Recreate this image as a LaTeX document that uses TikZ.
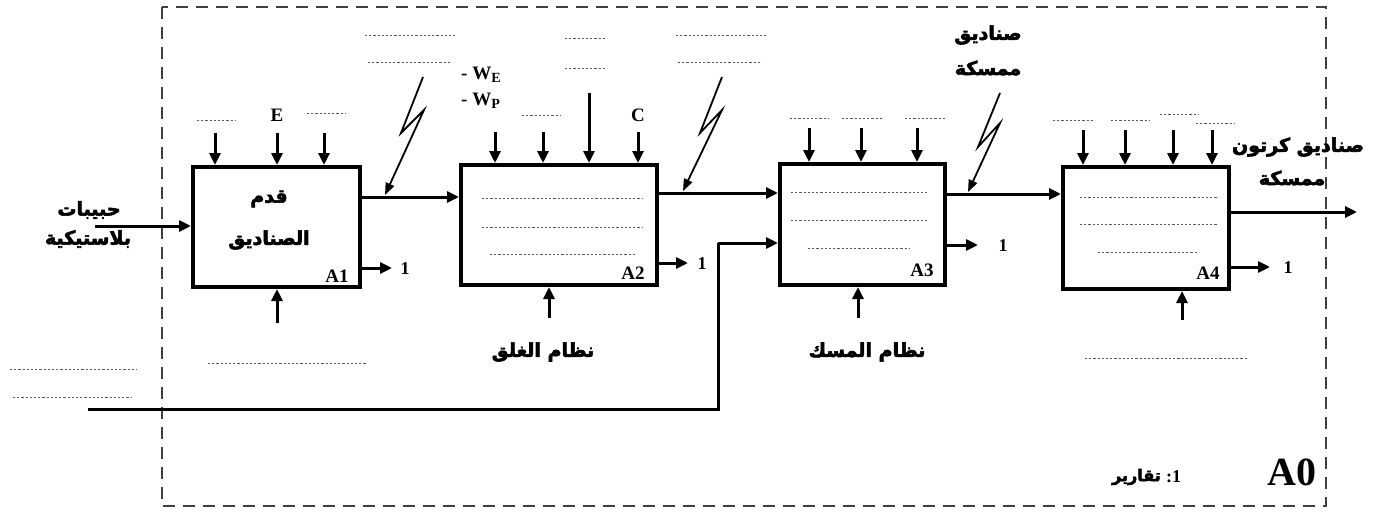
\documentclass[tikz,border=0pt]{standalone}
\usepackage{fontspec}
\setmainfont{Liberation Serif}
\newfontfamily\arabicfont[Script=Arabic,BoldFont={DejaVu Sans Bold},BoldFeatures={FakeBold=3}]{DejaVu Sans}
\TeXXeTstate=1
\usetikzlibrary{arrows.meta}
\tikzset{
  procbox/.style={draw, line width=4pt, inner sep=0pt},
  arr/.style={line width=3pt, -{Triangle[length=12pt,width=11pt]}},
  flow/.style={line width=3pt},
  bolt/.style={line width=1.8pt, -{Triangle[length=12pt,width=9pt]}},
  dots/.style={black!65, line width=0.9pt, dash pattern=on 2.2pt off 2pt},
  frame/.style={black!75, line width=1.4pt, dash pattern=on 12pt off 8pt},
  lat/.style={font=\bfseries\fontsize{19}{19}\selectfont, inner sep=0pt},
  one/.style={font=\bfseries\fontsize{18}{18}\selectfont, inner sep=0pt},
  ar/.style={font=\arabicfont\bfseries\fontsize{19}{19}\selectfont, inner sep=0pt},
}
\newcommand{\AR}[1]{\beginR #1\endR}
\begin{document}
\begin{tikzpicture}[x=1pt,y=-1pt]
\useasboundingbox (0,0) rectangle (1386,514);
% frame
\draw[frame] (162,7) rectangle (1326,506);

% boxes
\node[procbox, minimum width=167pt, minimum height=120pt] (A1) at (276.5,227) {};
\node[procbox, minimum width=196pt, minimum height=120pt] (A2) at (559,225) {};
\node[procbox, minimum width=165pt, minimum height=121pt] (A3) at (862.5,224.5) {};
\node[procbox, minimum width=166pt, minimum height=122pt] (A4) at (1146,228) {};

% box labels
\node[lat, anchor=base] (lA1) at (337,282) {A1};
\node[lat, anchor=base] (lA2) at (633,279) {A2};
\node[lat, anchor=base] (lA3) at (922,276) {A3};
\node[lat, anchor=base] (lA4) at (1208,279) {A4};

% A1 text
\node[ar] (t1a) at (269,199) {\AR{قدم}};
\node[ar] (t1b) at (269,240) {\AR{الصناديق}};

% dotted lines in boxes
\draw[dots] (482,198) -- (642,198);
\draw[dots] (482,227) -- (642,227);
\draw[dots] (490,254) -- (635,254);
\draw[dots] (791,192) -- (927,192);
\draw[dots] (791,220) -- (927,220);
\draw[dots] (808,248) -- (910,248);
\draw[dots] (1080,197) -- (1217,197);
\draw[dots] (1080,224) -- (1217,224);
\draw[dots] (1098,252) -- (1198,252);

% input
\coordinate (in1) at (95,226);
\draw[arr] (in1) -- (in1 -| A1.west);
\node[ar] (inA) at (89,210) {\AR{حبيبات}};
\node[ar] (inB) at (88,239) {\AR{بلاستيكية}};

% flows between boxes
\coordinate (f12) at (0,197);
\coordinate (f23) at (0,193);
\coordinate (f34) at (0,194);
\coordinate (f4o) at (1357,212);
\draw[arr] (f12 -| A1.east) -- (f12 -| A2.west);
\draw[arr] (f23 -| A2.east) -- (f23 -| A3.west);
\draw[arr] (f34 -| A3.east) -- (f34 -| A4.west);
\draw[arr] (f4o -| A4.east) -- (f4o);
\node[ar] (outA) at (1298,147) {\AR{صناديق كرتون}};
\node[ar] (outB) at (1292,178) {\AR{ممسكة}};

% bolts
\coordinate (b1e) at (385,195);
\coordinate (b2e) at (683,191);
\coordinate (b3e) at (968,192);
\draw[bolt] (423,77) -- (401,133) -- (424,110) -- (b1e);
\draw[bolt] (722,77) -- (700,133) -- (722,110) -- (b2e);
\draw[bolt] (1000,93) -- (978,147) -- (1000,123) -- (b3e);
\node[ar] (bxA) at (988,35) {\AR{صناديق}};
\node[ar] (bxB) at (988,68) {\AR{ممسكة}};

% long bottom line
\coordinate (m0) at (88,409);
\coordinate (m1) at (718,243);
\draw[flow] (m0) -| (m1);
\draw[arr] (m1) -- (m1 -| A3.west);
\draw[dots] (10,369) -- (137,369);
\draw[dots] (13,397) -- (132,397);

% outputs "1"
\coordinate (o1) at (392,268);
\coordinate (o2) at (688,263);
\coordinate (o3) at (978,245);
\coordinate (o4) at (1270,267);
\draw[arr] (o1 -| A1.east) -- (o1);
\draw[arr] (o2 -| A2.east) -- (o2);
\draw[arr] (o3 -| A3.east) -- (o3);
\draw[arr] (o4 -| A4.east) -- (o4);
\node[one] (n1) at (405,269) {1};
\node[one] (n2) at (702,264) {1};
\node[one] (n3) at (1003,246) {1};
\node[one] (n4) at (1288,268) {1};

% top controls A1
\coordinate (c11) at (215,133);
\coordinate (c12) at (277,133);
\coordinate (c13) at (324,133);
\draw[arr] (c11) -- (c11 |- A1.north);
\draw[arr] (c12) -- (c12 |- A1.north);
\draw[arr] (c13) -- (c13 |- A1.north);
\draw[dots] (197,120) -- (235,120);
\node[lat] (E) at (277,115) {E};
\draw[dots] (307,113) -- (345,113);

% top controls A2
\coordinate (c21) at (495,132);
\coordinate (c22) at (543,132);
\coordinate (c23) at (589,93);
\coordinate (c24) at (638,132);
\draw[arr] (c21) -- (c21 |- A2.north);
\draw[arr] (c22) -- (c22 |- A2.north);
\draw[arr] (c23) -- (c23 |- A2.north);
\draw[arr] (c24) -- (c24 |- A2.north);
\node[lat, anchor=west] (WE) at (461,75) {- W\raisebox{-3pt}{\fontsize{14}{14}\selectfont E}};
\node[lat, anchor=west] (WP) at (461,101) {- W\raisebox{-3pt}{\fontsize{14}{14}\selectfont P}};
\draw[dots] (522,115) -- (560,115);
\node[lat] (C) at (638,115) {C};
\draw[dots] (365,35) -- (455,35);
\draw[dots] (368,62) -- (452,62);
\draw[dots] (565,38) -- (605,38);
\draw[dots] (565,68) -- (605,68);
\draw[dots] (676,35) -- (766,35);
\draw[dots] (678,62) -- (762,62);

% top controls A3
\coordinate (c31) at (809,128);
\coordinate (c32) at (861,128);
\coordinate (c33) at (917,128);
\draw[arr] (c31) -- (c31 |- A3.north);
\draw[arr] (c32) -- (c32 |- A3.north);
\draw[arr] (c33) -- (c33 |- A3.north);
\draw[dots] (790,118) -- (828,118);
\draw[dots] (842,118) -- (882,118);
\draw[dots] (905,118) -- (945,118);

% top controls A4
\coordinate (c41) at (1083,130);
\coordinate (c42) at (1125,130);
\coordinate (c43) at (1173,130);
\coordinate (c44) at (1212,130);
\draw[arr] (c41) -- (c41 |- A4.north);
\draw[arr] (c42) -- (c42 |- A4.north);
\draw[arr] (c43) -- (c43 |- A4.north);
\draw[arr] (c44) -- (c44 |- A4.north);
\draw[dots] (1053,120) -- (1093,120);
\draw[dots] (1111,120) -- (1150,120);
\draw[dots] (1160,114) -- (1198,114);
\draw[dots] (1196,123) -- (1235,123);

% bottom mechanisms
\coordinate (m1b) at (277,323);
\coordinate (m2b) at (549,318);
\coordinate (m3b) at (858,318);
\coordinate (m4b) at (1182,320);
\draw[arr] (m1b) -- (m1b |- A1.south);
\draw[arr] (m2b) -- (m2b |- A2.south);
\draw[arr] (m3b) -- (m3b |- A3.south);
\draw[arr] (m4b) -- (m4b |- A4.south);
\draw[dots] (208,363) -- (367,363);
\node[ar] (mech2) at (543,352) {\AR{نظام الغلق}};
\node[ar] (mech3) at (867,352) {\AR{نظام المسك}};
\draw[dots] (1085,358) -- (1248,358);

% legend
\node[ar, anchor=east, font=\arabicfont\bfseries\fontsize{16}{16}\selectfont] (rep) at (1161,477) {\AR{تقارير}};
\node[one, anchor=west] (repn) at (1166,477) {:1};
\node[font=\bfseries\fontsize{40}{40}\selectfont, inner sep=0pt] (A0) at (1292,472) {A0};
\end{tikzpicture}
\end{document}
